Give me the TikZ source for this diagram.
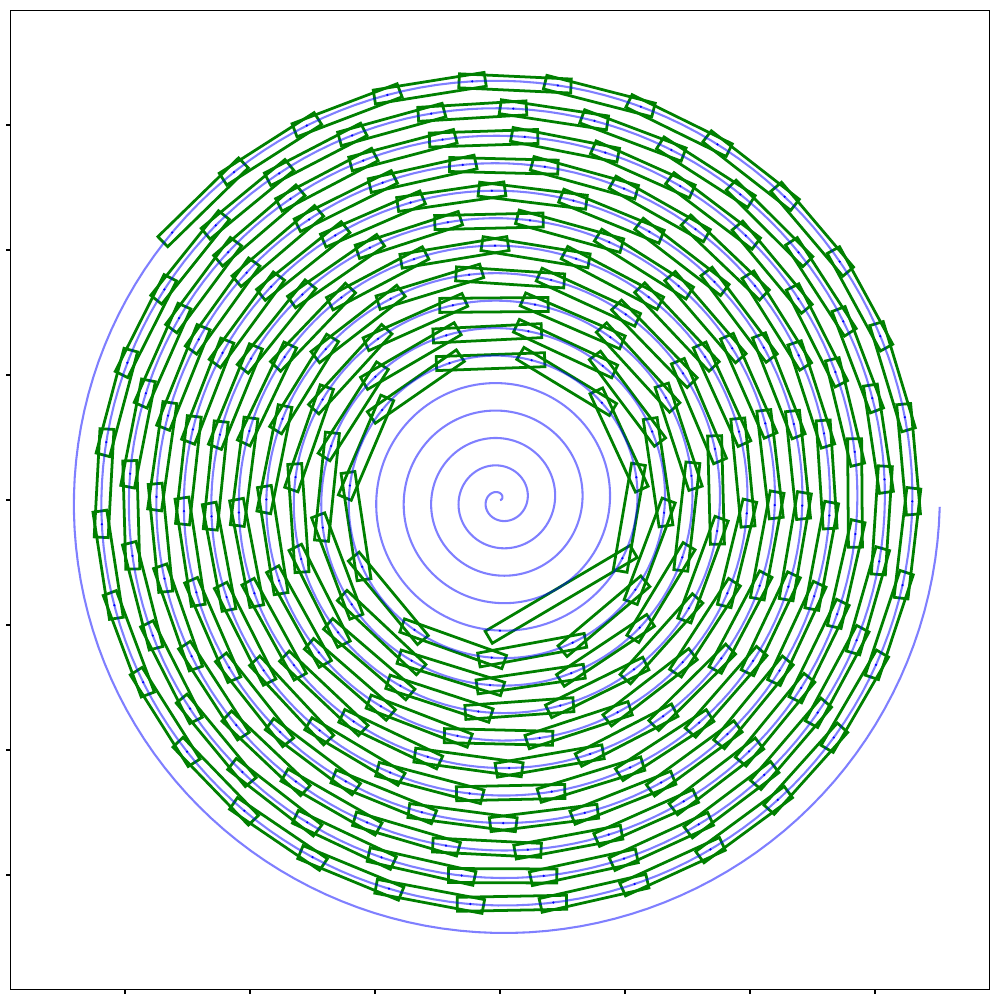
\documentclass[tikz,border=0pt]{standalone}
\definecolor{mplgreen}{HTML}{008000}
\begin{document}
\begin{tikzpicture}[x=3.175cm,y=3.175cm,
  linkbox/.style={draw=mplgreen, line width=2pt},
  spiralline/.style={draw=blue, draw opacity=0.5, line width=1.5pt},
  pointdot/.style={fill=blue},
  axisframe/.style={draw=black, line width=0.8pt},
  tickmark/.style={draw=black, line width=0.8pt}]
\useasboundingbox (-4,-4) rectangle (4,4);
\def\spA{0.035}
\def\spE{0.105}
\def\spW{0.056}
\xdef\spTh{96.705}
% chain of links, computed from the outer end inwards
\foreach \j in {0,...,222} {
  \pgfmathtruncatemacro\spIdx{223-\j}
  \edef\spX{\fpeval{round(\spA*\spTh*cos(\spTh),6)}}
  \edef\spY{\fpeval{round(\spA*\spTh*sin(\spTh),6)}}
  \coordinate (q\spIdx) at (\spX,\spY);
  \ifnum\j>0
    \edef\spAng{\fpeval{round(atand(\spPY-(\spY),\spPX-(\spX)),5)}}
    \edef\spLen{\fpeval{round(sqrt((\spPY-(\spY))^2+(\spPX-(\spX))^2),6)}}
    \draw[linkbox, shift={(q\spIdx)}, rotate=\spAng] (-\spE,-\spW) rectangle ({\spLen+\spE},\spW);
  \fi
  \xdef\spPX{\spX}\xdef\spPY{\spY}
  \edef\spC{\fpeval{0.657+0.035*max(0,1-\j/24)}}
  \edef\spR{\fpeval{\spA*\spTh}}
  \xdef\spTh{\fpeval{sqrt(\spTh*\spTh-2*\spC*(1+\spC*\spC/(24*\spR*\spR))/\spA)}}
}
% innermost (long) link
\coordinate (q0) at (0,-1.044580);
\edef\spAng{\fpeval{round(atand(\spPY+1.04458,\spPX),5)}}
\edef\spLen{\fpeval{round(sqrt((\spPY+1.04458)^2+(\spPX)^2),6)}}
\draw[linkbox, shift={(q0)}, rotate=\spAng] (-\spE,-\spW) rectangle ({\spLen+\spE},\spW);
% spiral
\draw[spiralline] plot[domain=0:100.531, samples=2500, variable=\t] ({0.035*\t*cos(\t r)},{0.035*\t*sin(\t r)});
% points
\foreach \k in {0,...,223} { \fill[pointdot] (q\k) circle (0.9pt); }
% axes
\draw[axisframe] (-3.915,-3.915) rectangle (3.915,3.915);
\foreach \v in {-3,...,3} {
  \draw[tickmark] (\v,-3.915) -- ++(0,-3.5pt);
  \draw[tickmark] (-3.915,\v) -- ++(-3.5pt,0);
}
\end{tikzpicture}
\end{document}
